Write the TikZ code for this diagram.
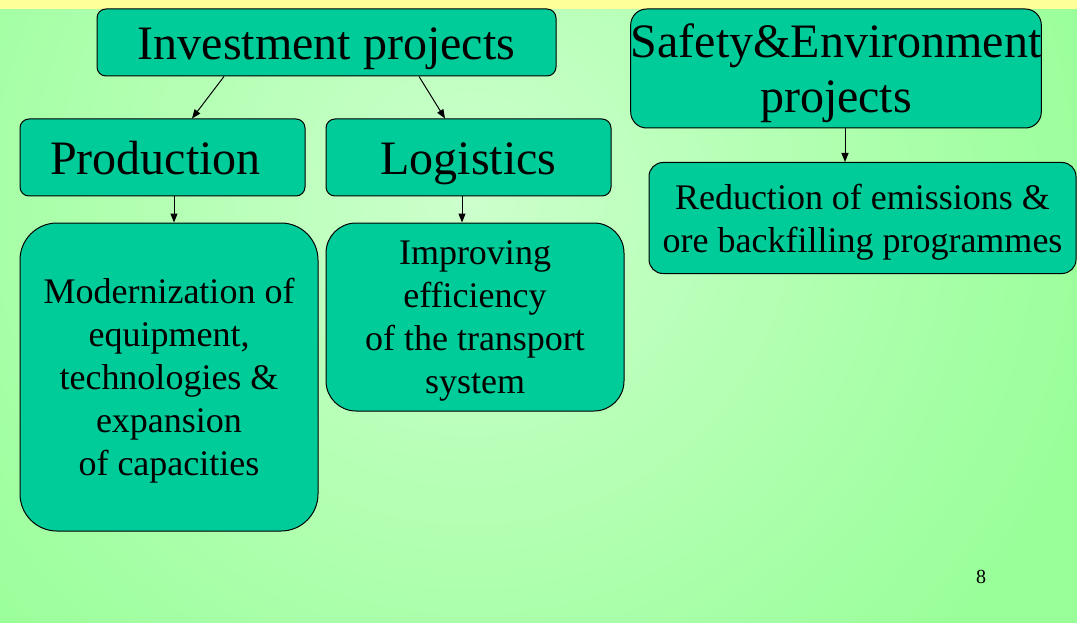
\documentclass[tikz,border=0pt]{standalone}
\usepackage{fontspec}
\setmainfont{Liberation Serif}
\usetikzlibrary{positioning,arrows.meta}
\definecolor{slidetop}{RGB}{255,255,153}
\definecolor{bglight}{RGB}{204,255,204}
\definecolor{bgdark}{RGB}{153,255,153}
\definecolor{boxfill}{RGB}{0,204,153}

\begin{document}
\begin{tikzpicture}[%
    x=1pt, y=-1pt,                       % work in slide pixels, y going down
    >={Triangle[length=9pt,width=7pt]},
    node distance=26pt,                  % gap between a box and its sub-box
    every node/.style={inner sep=0pt}]
% -------------------------------------------------
% Box styles; fixed text height/depth keep the baselines where the
% slide has them, whatever letters the line holds
\tikzset{
  base/.style={draw=black, line width=1pt, fill=boxfill, align=center},
  head/.style={base, rounded corners=9pt, font=\fontsize{48}{55}\selectfont,
    text height=35pt, text depth=0pt},
  item/.style={base, font=\fontsize{36}{43}\selectfont, text depth=-3pt},
  conn/.style={->, draw, line width=1pt}
}
% -------------------------------------------------
% Slide background: light centre, greener towards the edges
\useasboundingbox (0,0) rectangle (1077,623);
\begin{scope}
  \clip (0,0) rectangle (1077,623);
  \shade[inner color=bglight, outer color=bgdark] (-180,-450) rectangle (1120,850);
  \fill[slidetop] (0,0) rectangle (1077,9);
\end{scope}

% -------------------------------------------------
% Top level boxes
\node [head, minimum width=459pt, minimum height=67pt] (inv) at (326.5,42.5)
  {Investment projects};
\node [base, rounded corners=16pt, minimum width=408pt, minimum height=119pt,
  font=\fontsize{48}{55}\selectfont, text depth=1pt]
  (safe) at (836,68.5) {Safety\&Environment\\ projects};

% Second row
\node [head, minimum width=285pt, minimum height=77pt] (prod) at (162.5,157.5)
  {Production\kern14pt};
\node [head, minimum width=285pt, minimum height=77pt] (log) at (468.5,157.5)
  {Logistics};

% Detail boxes hang below their parents
\node [item, rounded corners=37pt, minimum width=298pt, minimum height=308pt,
  below=of prod.south west, anchor=north west] (modern)
  {Modernization of\\ equipment,\\ technologies \&\\ expansion\\ of capacities};
\node [item, rounded corners=30pt, minimum width=298pt, minimum height=188pt,
  below=of log.south west, anchor=north west] (impr)
  {Improving\\ efficiency\\ of the transport\\ system};
\node [item, rounded corners=14pt, minimum width=427pt, minimum height=111pt]
  (cut) at (862.5,218) {Reduction of emissions \&\\ ore backfilling programmes};

% page number
\node [font=\fontsize{20}{24}\selectfont] (pgno) at (981,577) {8};

% -------------------------------------------------
% Connectors
\draw [conn] ([xshift=-102.5pt]inv.south) -- ([xshift=29.5pt]prod.north);
\draw [conn] ([xshift=92.5pt]inv.south) -- ([xshift=-23.5pt]log.north);
\draw [conn] ([xshift=11.5pt]prod.south) -- ([xshift=11.5pt]prod.south |- modern.north);
\draw [conn] ([xshift=-6.5pt]log.south) -- ([xshift=-6.5pt]log.south |- impr.north);
\draw [conn] ([xshift=9pt]safe.south) -- ([xshift=9pt]safe.south |- cut.north);
\end{tikzpicture}
\end{document}
